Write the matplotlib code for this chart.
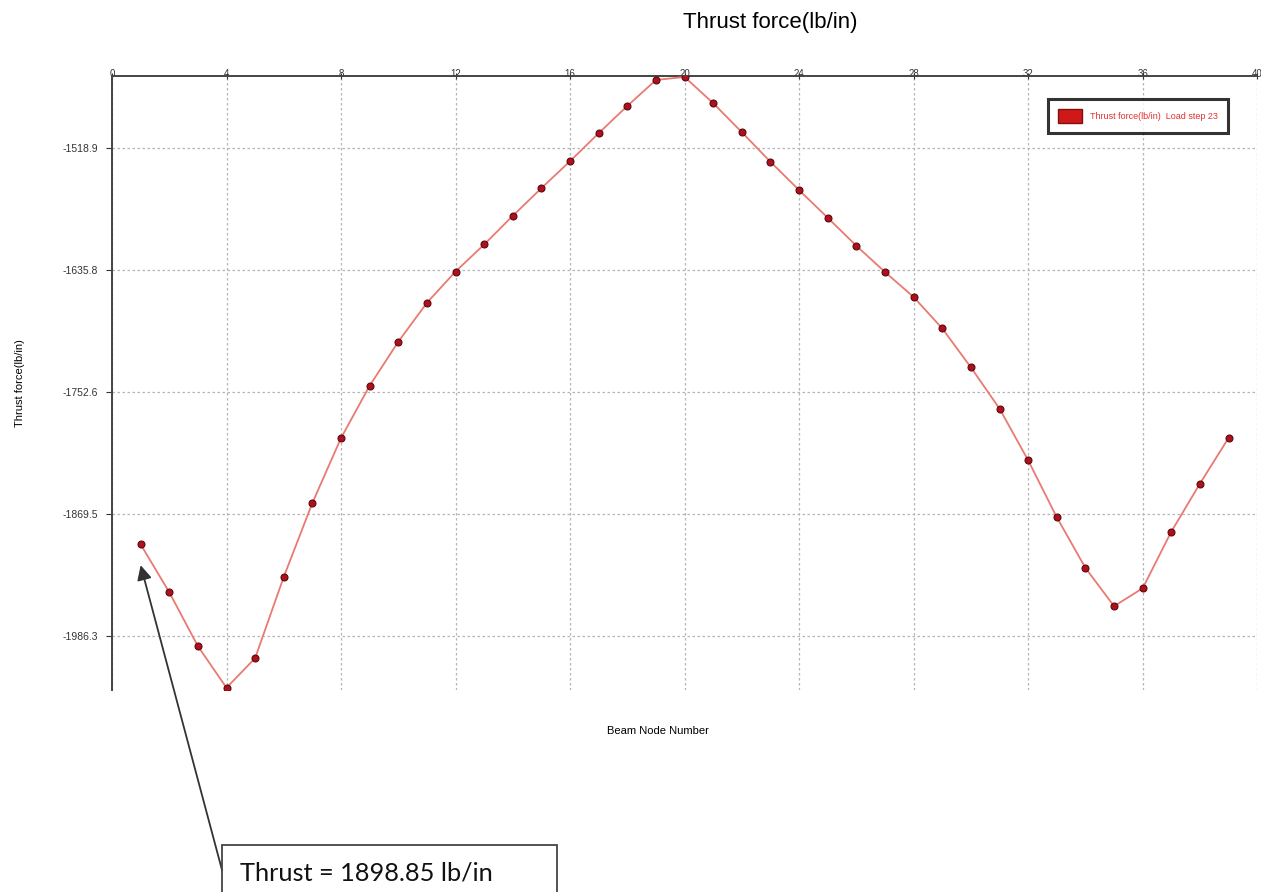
import matplotlib.pyplot as plt
from matplotlib.patches import Patch, Rectangle

# beam node numbers and thrust values (lb/in), load step 23
nodes = list(range(1, 40))
thrust = [-1898.9, -1944.8, -1996.5, -2036.4, -2008.0, -1930.1, -1859.2, -1797.0,
          -1746.9, -1704.7, -1667.4, -1637.4, -1611.5, -1584.0, -1557.5, -1531.6,
          -1504.8, -1478.7, -1453.8, -1450.9, -1476.1, -1503.9, -1532.3, -1559.4,
          -1585.9, -1612.8, -1637.9, -1661.9, -1692.0, -1729.3, -1768.9, -1818.4,
          -1873.0, -1921.5, -1958.2, -1941.0, -1886.7, -1840.7, -1796.9]

x_ticks = [0, 4, 8, 12, 16, 20, 24, 28, 32, 36, 40]
y_ticks = [-1986.3, -1869.5, -1752.6, -1635.8, -1518.9]
y_tick_labels = ["-1986.3", "-1869.5", "-1752.6", "-1635.8", "-1518.9"]
callout_text = "Thrust = 1898.85 lb/in"

plt.rcParams['font.family'] = ['Liberation Sans', 'DejaVu Sans']

fig = plt.figure(figsize=(12.61, 8.92), dpi=100)
ax = fig.add_axes([0.0888, 0.2265, 0.9082, 0.6883])

ax.plot(nodes, thrust, color='#e87a72', lw=1.3, zorder=3)
ax.plot(nodes, thrust, 'o', ms=5, mfc='#b0101c', mec='#5a0a10', mew=0.8, zorder=4)

ax.set_xlim(0, 40)
ax.set_ylim(-2038.5, -1450.0)
ax.set_xticks(x_ticks)
ax.set_yticks(y_ticks)
ax.set_yticklabels(y_tick_labels)
ax.xaxis.tick_top()
ax.tick_params(axis='x', labelsize=7, length=4, pad=-4, direction='inout', colors='#333333')
ax.tick_params(axis='y', labelsize=7.5, length=4, pad=6, colors='#333333')

for side in ['right', 'bottom']:
    ax.spines[side].set_visible(False)
ax.spines['left'].set_color('#444444')
ax.spines['top'].set_color('#444444')
ax.spines['left'].set_linewidth(1.4)
ax.spines['top'].set_linewidth(1.4)

ax.grid(True, color='#b5b5b5', linestyle=(0, (2, 2)), lw=0.9)
ax.set_axisbelow(True)

ax.set_xlabel("Beam Node Number", fontsize=8)
ax.xaxis.set_label_position('bottom')
ax.xaxis.set_label_coords(0.477, -0.058)
ax.set_ylabel("Thrust force(lb/in)", fontsize=8, labelpad=27)

leg = ax.legend(handles=[Patch(facecolor='#d01818', edgecolor='#801010')],
                labels=["Thrust force(lb/in)  Load step 23"],
                loc='upper right', bbox_to_anchor=(0.978, 0.97),
                fontsize=6.5, labelcolor='#e03030', frameon=True, fancybox=False,
                handlelength=2.6, handleheight=2.0, borderpad=1.1, handletextpad=0.9)
leg.get_frame().set_edgecolor('black')
leg.get_frame().set_linewidth(2.2)

fig.text(0.611, 0.975, "Thrust force(lb/in)", ha='center', va='center', fontsize=16)

# callout box with arrow pointing at node 1
fig.patches.append(Rectangle((222 / 1261, -0.05), 335 / 1261, 0.05 + 47 / 892,
                             transform=fig.transFigure, fill=False,
                             edgecolor='#444444', lw=1.3))
fig.text(240 / 1261, 1 - 873 / 892, callout_text, ha='left', va='center',
         fontsize=18.3, family=['Lato', 'DejaVu Sans'], color='#111111')
ax.annotate("", xy=(nodes[0], thrust[0] - 20), xycoords='data',
            xytext=(222 / 1261, 1 - 870 / 892), textcoords='figure fraction',
            arrowprops=dict(arrowstyle='-|>', color='#333333', lw=1.3,
                            mutation_scale=22, shrinkA=0, shrinkB=0),
            annotation_clip=False)

fig.savefig("out.png", dpi=100)
